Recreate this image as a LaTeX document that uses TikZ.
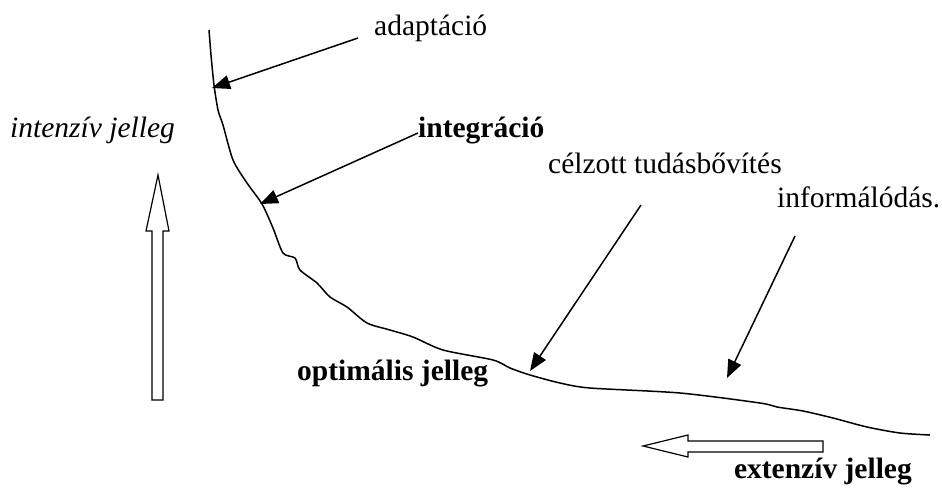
\documentclass[tikz,border=0pt]{standalone}
\usepackage{fontspec}
\setmainfont{Liberation Serif}
\usetikzlibrary{arrows.meta}
\begin{document}
\begin{tikzpicture}[x=1pt,y=-1pt,
  lbl/.style={inner sep=0pt,font=\fontsize{29.5}{34}\selectfont},
  pointer/.style={line width=1.5pt,-{Triangle[length=18pt,width=14pt]}},
  curveline/.style={line width=1.5pt,line join=round},
  blockarrow/.style={draw,line width=1.2pt,fill=white,line join=miter}]
\useasboundingbox (0,0) rectangle (942,491);
% labels
\node[lbl,anchor=base west] (adapt) at (374,35) {adaptáció};
\node[lbl,anchor=base west,font=\fontsize{29.5}{34}\selectfont\itshape] (intenz) at (10,137) {intenzív jelleg};
\node[lbl,anchor=base west,font=\fontsize{29.5}{34}\selectfont\bfseries] (integr) at (418,137) {integráció};
\node[lbl,anchor=base west] (celz) at (548,173) {célzott tudásbővítés};
\node[lbl,anchor=base west] (inform) at (777,207) {informálódás.};
\node[lbl,anchor=base west,font=\fontsize{29.5}{34}\selectfont\bfseries] (optim) at (297,380) {optimális jelleg};
\node[lbl,anchor=base east,font=\fontsize{29.5}{34}\selectfont\bfseries] (extenz) at (912,478) {extenzív jelleg};
% curve
\draw[curveline] plot[smooth,tension=0.45] coordinates {
 (209,30) (211,55) (214,85) (218,110) (223,125) (233,160) (247,183) (262,204)
 (273,228) (283,253) (295,258) (300,270) (317,283) (330,297) (347,307) (367,323)
 (390,330) (413,337) (443,350) (493,360) (510,368) (530,375) (560,383) (590,388)
 (680,393) (760,403) (777,407) (803,411) (833,418) (867,427) (900,433) (930,435)};
% arrow coordinates
\coordinate (adaptS) at (358,38);
\coordinate (adaptT) at (212,88);
\coordinate (integS) at (418,133);
\coordinate (integT) at (260,204);
\coordinate (celzS) at (641,205);
\coordinate (celzT) at (530,371);
\coordinate (infS) at (795,236);
\coordinate (infT) at (727,378);
\draw[pointer] (adaptS) -- (adaptT);
\draw[pointer] (integS) -- (integT);
\draw[pointer] (celzS) -- (celzT);
\draw[pointer] (infS) -- (infT);
% block arrows
\draw[blockarrow] (152,400) -- (163,400) -- (163,231) -- (169,231) -- (158,175) -- (146,231) -- (152,231) -- cycle;
\draw[blockarrow] (823,441) -- (823,452) -- (688,452) -- (688,457) -- (643,446) -- (688,435) -- (688,441) -- cycle;
\end{tikzpicture}
\end{document}
